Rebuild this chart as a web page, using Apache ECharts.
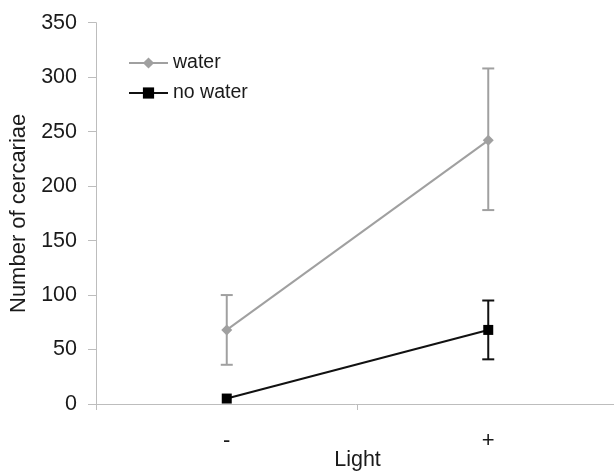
<!DOCTYPE html>
<html><head><meta charset="utf-8">
<script src="https://cdn.jsdelivr.net/npm/echarts@6/dist/echarts.min.js"></script>
<style>html,body{margin:0;padding:0;background:#fff}#c{width:614px;height:471px}</style>
</head><body><div id="c"></div>
<script>
const categories = ['-', '+'];
const yTicks = [0, 50, 100, 150, 200, 250, 300, 350];
const waterMean = [68, 242];
const waterLow = [36, 178];
const waterHigh = [100, 308];
const noWaterMean = [5, 68];
const noWaterLow = [5, 41];
const noWaterHigh = [5, 95];

const chart = echarts.init(document.getElementById('c'), null, {renderer: 'canvas'});
const font = 'Liberation Sans, Arial, sans-serif';
function errSeries(name, low, high, color, width) {
  return {
    type: 'custom', name: name + ' err', silent: true, z: 1,
    data: categories.map((c, i) => [i, low[i], high[i]]),
    renderItem: function (params, api) {
      const lo = api.coord([api.value(0), api.value(1)]);
      const hi = api.coord([api.value(0), api.value(2)]);
      if (Math.abs(lo[1] - hi[1]) < 1) return null;
      const w = 6;
      const st = {stroke: color, lineWidth: width};
      return {type: 'group', children: [
        {type: 'line', shape: {x1: hi[0], y1: hi[1], x2: lo[0], y2: lo[1]}, style: st},
        {type: 'line', shape: {x1: hi[0] - w, y1: hi[1], x2: hi[0] + w, y2: hi[1]}, style: st},
        {type: 'line', shape: {x1: lo[0] - w, y1: lo[1], x2: lo[0] + w, y2: lo[1]}, style: st}
      ]};
    }
  };
}
chart.setOption({
  animation: false,
  backgroundColor: '#fff',
  textStyle: {fontFamily: font},
  grid: {left: 96, top: 22.7, bottom: 67, width: 523, containLabel: false, outerBoundsMode: 'none'},
  legend: {
    left: 123, top: 48, orient: 'vertical', itemWidth: 39, itemHeight: 14, itemGap: 10,
    textStyle: {fontSize: 19.5, color: '#1a1a1a', fontFamily: font},
    data: ['water', 'no water']
  },
  xAxis: {
    type: 'category', data: categories, boundaryGap: true,
    name: 'Light', nameLocation: 'middle', nameGap: 45, nameMoveOverlap: false,
    nameTextStyle: {fontSize: 21.5, color: '#1a1a1a', fontFamily: font},
    axisLine: {lineStyle: {color: '#bdbdbd', width: 1}},
    axisTick: {show: true, length: 6, lineStyle: {color: '#bdbdbd'}},
    axisLabel: {fontSize: 22, color: '#1a1a1a', margin: 26, fontFamily: font}
  },
  yAxis: {
    type: 'value', min: yTicks[0], max: yTicks[yTicks.length - 1], interval: 50,
    name: 'Number of cercariae', nameLocation: 'middle', nameGap: 66, nameMoveOverlap: false,
    nameTextStyle: {fontSize: 22, color: '#1a1a1a', fontFamily: font},
    axisLine: {show: true, lineStyle: {color: '#bdbdbd', width: 1}},
    axisTick: {show: true, length: 8, lineStyle: {color: '#bdbdbd'}},
    splitLine: {show: false},
    axisLabel: {fontSize: 21.5, color: '#1a1a1a', margin: 19, fontFamily: font}
  },
  series: [
    errSeries('water', waterLow, waterHigh, '#a0a0a0', 2),
    errSeries('no water', noWaterLow, noWaterHigh, '#111', 2),
    {name: 'water', type: 'line', data: waterMean, symbol: 'diamond', symbolSize: 11,
     itemStyle: {color: '#a0a0a0'}, lineStyle: {color: '#a0a0a0', width: 2}, z: 3},
    {name: 'no water', type: 'line', data: noWaterMean, symbol: 'rect', symbolSize: 10,
     itemStyle: {color: '#000'}, lineStyle: {color: '#111', width: 2}, z: 4}
  ]
});
</script></body></html>
